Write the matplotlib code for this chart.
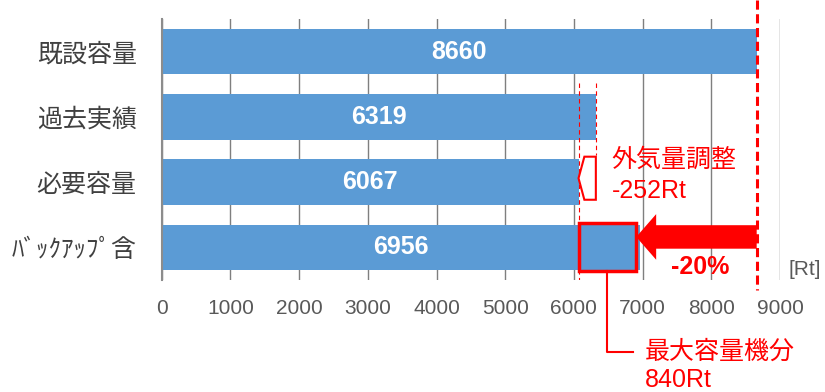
import matplotlib
matplotlib.use("Agg")
import matplotlib.pyplot as plt
import matplotlib.patches as mpatches

plt.rcParams['font.family'] = ['Liberation Sans', 'Noto Sans CJK JP', 'DejaVu Sans']

# data
categories = ['既設容量', '過去実績', '必要容量', 'ﾊﾞｯｸｱｯﾌﾟ含']
values = [8660, 6319, 6067, 6956]
outside_air_adj = -252      # 外気量調整
max_unit = 840              # 最大容量機分
xticks = list(range(0, 10000, 1000))

bar_color = '#5B9BD5'
red = '#FF0000'
grey = '#595959'

fig = plt.figure(figsize=(8.25, 3.92), dpi=100)
ax = fig.add_axes([0.196, 0.2857, 0.7495, 0.6658])

ypos = list(range(len(categories)))
ax.barh(ypos, values, height=0.7, color=bar_color, zorder=2)
for y, v in zip(ypos, values):
    ax.text(v / 2, y, str(v), ha='center', va='center', color='white',
            fontsize=18, fontweight='bold', zorder=5)

ax.set_xlim(0, 9000)
ax.set_ylim(3.5, -0.5)
ax.set_xticks(xticks)
ax.set_yticks(ypos)
ax.set_yticklabels(categories, fontsize=18, color='#404040')
ax.tick_params(axis='x', labelsize=15, labelcolor=grey, length=0, pad=14)
ax.tick_params(axis='y', length=0, pad=18)
ax.grid(axis='x', color='#7f7f7f', linewidth=1, zorder=0)
for s in ['top', 'right', 'bottom']:
    ax.spines[s].set_visible(False)
ax.spines['left'].set_color('#8c8c8c')
ax.spines['left'].set_linewidth(1.5)
ax.spines['left'].set_zorder(3)

existing, past, need, backup = values

# big red dashed line at existing capacity
ax.plot([existing, existing], [-0.79, 3.65], color=red, lw=2.2,
        ls=(0, (3, 1.5)), clip_on=False, zorder=4)
# thin dashed guide lines
ax.plot([need, need], [0.48, 3.5], color=red, lw=0.8, ls=(0, (4, 3)), zorder=4)
ax.plot([past, past], [0.48, 1.58], color=red, lw=0.8, ls=(0, (4, 3)), zorder=4)

# pentagon marker for outside-air adjustment
pent = mpatches.Polygon([(need, 1.94), (need + 85, 1.61), (past, 1.61),
                         (past, 2.27), (need + 85, 2.27)], closed=True,
                        facecolor='white', edgecolor=red, lw=1.5, zorder=4)
ax.add_patch(pent)
ax.text(6550, 1.66, '外気量調整', color=red, fontsize=18, va='center', ha='left')
ax.text(6550, 2.13, f'{outside_air_adj}Rt', color=red, fontsize=18,
        va='center', ha='left')

# red box for largest unit
rect = mpatches.Rectangle((need, 2.62), max_unit, 0.74, facecolor=bar_color,
                          edgecolor=red, lw=2.5, zorder=4)
ax.add_patch(rect)
cx = need + max_unit / 2
ax.plot([cx, cx, 6860], [3.36, 4.6, 4.6], color=red, lw=1.5,
        clip_on=False, zorder=4)
ax.text(7030, 4.6, '最大容量機分', color=red, fontsize=18, va='center',
        ha='left', clip_on=False)
ax.text(7030, 5.03, f'{max_unit}Rt', color=red, fontsize=18, va='center',
        ha='left', clip_on=False)

# big arrow from existing to need+max
arrow = mpatches.FancyArrow(existing, 2.84, -(existing - (need + max_unit)), 0,
                            width=0.36, head_width=0.7, head_length=290,
                            length_includes_head=True, color=red, lw=0, zorder=5)
ax.add_patch(arrow)
pct = round((need + max_unit - existing) / existing * 100)
ax.text(7840, 3.3, f'{pct}%', color=red, fontsize=18, fontweight='bold',
        ha='center', va='center')

ax.text(9130, 3.34, '[Rt]', color=grey, fontsize=15, ha='left', va='center',
        clip_on=False)

fig.savefig('out.png', dpi=100)
